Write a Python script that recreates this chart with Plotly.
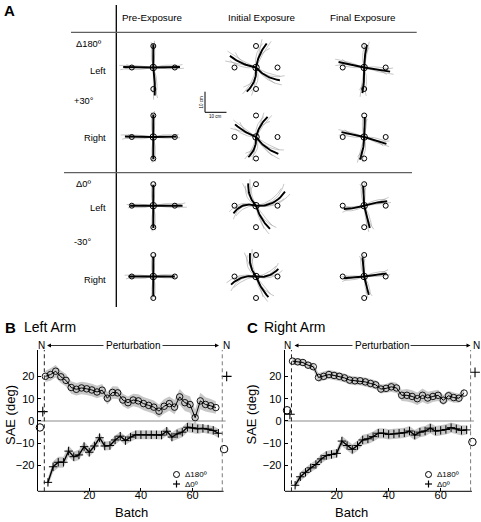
import math
import plotly.graph_objects as go

W, H = 481, 522
FONT = "Liberation Sans, Arial, sans-serif"

# ---------------- Panel B / C data (SAE, deg) ----------------
batch_d180 = [3, 5, 7, 9, 11, 13, 15, 17, 19, 21, 23, 25, 27, 29, 31, 33, 35,
              37, 39, 41, 43, 45, 47, 49, 51, 53, 55, 57, 59, 61, 63, 65, 67, 69]
batch_d0 = [4, 6, 8, 10, 12, 14, 16, 18, 20, 22, 24, 26, 28, 30, 32, 34, 36,
            38, 40, 42, 44, 46, 48, 50, 52, 54, 56, 58, 60, 62, 64, 66, 68, 70]

left_d180 = [20, 20.8, 22.3, 19.8, 18.2, 15, 14.2, 14.8, 14.4, 13.9,
             13, 13.8, 10.2, 12.8, 12.6, 9.4, 8.2, 9.4, 9, 7.8,
             7, 6.2, 4.4, 6.6, 7.8, 6.2, 10.8, 8.2, 7.4, 1.5,
             9, 7.4, 6.8, 6]
left_d180_err = [2.5, 2.8, 2.8, 2.8, 2.8, 2.8, 2.8, 2.8, 2.8, 2.8,
                 2.8, 2.8, 2.8, 2.8, 2.8, 2.8, 2.8, 2.8, 3.0, 3.0,
                 3.0, 3.0, 3.0, 3.2, 3.2, 3.2, 3.5, 3.7, 3.7, 3.7,
                 3.7, 3.2, 3.0, 2.8]
left_d0 = [-27.5, -20.5, -18.5, -18.5, -13.5, -16, -15.2, -11.5, -14, -11.2,
           -7.5, -11.2, -11, -8.5, -6.8, -8.8, -7.2, -6.2, -6.2, -6.2,
           -6.2, -6.2, -6.3, -4.6, -7.2, -5.8, -5, -2.8, -3.1, -3.5,
           -3.3, -3.6, -4.2, -5.5]
left_d0_err = [2.0, 2.5, 2.5, 2.5, 2.5, 2.3, 2.3, 2.3, 2.3, 2.3,
               2.3, 2.0, 2.0, 2.0, 2.0, 2.0, 2.0, 2.0, 2.0, 2.0,
               2.0, 2.0, 2.0, 2.0, 2.0, 2.3, 2.3, 2.3, 2.3, 2.3,
               2.0, 2.0, 2.0, 2.0]

right_d180 = [26.8, 26.5, 26.2, 25, 24.3, 19.5, 20, 20.8, 20.4, 20,
              19.3, 18.3, 18, 18, 17.5, 16.8, 16.2, 14.3, 14.6, 15.3,
              14.8, 11.5, 11.5, 11, 10, 11.5, 10.3, 11, 11.5, 9.3,
              11.3, 10.5, 10.2, 12.5]
right_d180_err = [1.6, 1.6, 1.6, 1.6, 1.6, 2.0, 2.0, 2.0, 2.0, 2.0,
                  2.0, 2.0, 2.0, 2.0, 2.0, 2.0, 2.0, 2.0, 2.0, 2.3,
                  2.3, 2.5, 2.8, 2.8, 2.8, 3.0, 2.8, 2.5, 2.5, 2.3,
                  2.3, 2.3, 2.0, 2.0]
right_d0 = [-28.8, -25, -23, -21, -19.5, -17, -15.5, -15, -14.5, -9,
            -11, -12.7, -11, -8.5, -8, -7, -5.5, -5.5, -6, -5.8,
            -5.5, -5.3, -4.5, -6.3, -5, -4.5, -3.2, -4.5, -4.2, -3.8,
            -3, -3.5, -4.2, -4]
right_d0_err = [1.6, 2.0, 2.0, 2.0, 2.0, 2.0, 2.0, 2.0, 2.0, 2.3,
                2.3, 2.3, 2.3, 2.3, 2.3, 2.3, 2.3, 2.3, 2.3, 2.3,
                2.3, 2.3, 2.3, 2.3, 2.3, 2.3, 2.3, 2.3, 2.3, 2.3,
                2.3, 2.3, 2.3, 2.0]

naive_x_d180 = [0.9, 72.2]
naive_x_d0 = [2.0, 73.2]
left_naive_d180 = [-2.9, -12.6]
left_naive_d0 = [4.2, 20.0]
right_naive_d180 = [4.8, -9.4]
right_naive_d0 = [3.0, 21.8]
n_boundaries = [2.6, 71.5]
x_ticks = [20, 40, 60]
y_ticks = [-20, -10, 0, 10, 20]

# ---------------- Panel A data (hand paths, cm) ----------------
# each path: (direction deg, length cm, bend cm); order up, right, down, left
col_names = ["Pre-Exposure", "Initial Exposure", "Final Exposure"]
target_dist = 10
target_dirs = [90, 0, -90, 180]
paths_d180_left = [
    [(90, 10.8, 0), (1, 12.4, 0), (-87, 13, 0.3), (179, 14, 0)],
    [(66, 12.2, 0.8), (-28, 12.6, -1.2), (-111, 12, 1.5), (156, 13.3, 0.8)],
    [(83, 10.6, 0.3), (-9, 12.2, 0), (-94, 12, 0.3), (168, 12.2, 0)],
]
paths_d180_right = [
    [(90, 10.5, 0), (1, 10.8, 0), (-90, 10.4, 0), (179, 13.2, 0)],
    [(60, 10.8, 0.8), (-37, 13, -1), (-111, 10, 1.2), (149, 11.4, 0.5)],
    [(88, 9.3, 0), (-17, 10.8, 0), (-101, 10.7, 0.5), (168, 10.8, 0)],
]
paths_d0_left = [
    [(90, 9.8, 0), (0, 13.6, 0), (-90, 10.4, 0), (180, 10.8, 0)],
    [(109, 11, 1.2), (26, 15, -2.2), (-59, 12.6, -0.8), (-161, 11.1, -2)],
    [(93, 9.3, 0), (11, 10.9, 0.3), (-76, 10.7, 0), (189, 9.6, 0.3)],
]
paths_d0_right = [
    [(90, 9.3, 0), (0, 10, 0), (-90, 9.3, 0), (180, 11.6, 0)],
    [(104, 11.2, 1.2), (19, 11, -1.5), (-59, 11.2, -0.5), (-162, 12.2, -1.5)],
    [(95, 8.9, 0), (8, 10.5, 0), (-76, 8.8, 0), (-175, 9.5, 0)],
]
panel_a_rows = [paths_d180_left, paths_d180_right, paths_d0_left, paths_d0_right]
trial_spread = [5, 12, 8]  # deg, per column
trial_variants = [(-1, 0.9, 0.8), (1, 1.1, -0.8), (-0.5, 1.15, -0.4), (0.7, 0.95, 0.6)]

# ---------------- layout helpers ----------------
def fx(px):
    return px / W

def fy(py):
    return 1 - py / H

def bez(angle, length, bend, n=22):
    a = math.radians(angle)
    ex, ey = length * math.cos(a), length * math.sin(a)
    nx, ny = -math.sin(a), math.cos(a)
    cx, cy = ex / 2 + 2 * bend * nx, ey / 2 + 2 * bend * ny
    xs, ys = [], []
    for i in range(n + 1):
        t = i / n
        xs.append(2 * (1 - t) * t * cx + t * t * ex)
        ys.append(2 * (1 - t) * t * cy + t * t * ey)
    return xs, ys

fig = go.Figure()
layout = {}
shapes = []
annotations = []

def text(x, y, s, size, xanchor="center", bold=False, angle=0, color="black"):
    annotations.append(dict(
        x=fx(x), y=fy(y), xref="paper", yref="paper", text=(f"<b>{s}</b>" if bold else s),
        showarrow=False, xanchor=xanchor, yanchor="middle", textangle=angle,
        font=dict(size=size, family=FONT, color=color)))

def pline(x0, y0, x1, y1, color="black", width=1, dash=None):
    ln = dict(color=color, width=width)
    if dash:
        ln["dash"] = dash
    shapes.append(dict(type="line", xref="paper", yref="paper",
                       x0=fx(x0), y0=fy(y0), x1=fx(x1), y1=fy(y1), line=ln))

# ---------------- Panel A ----------------
S = 2.15        # px per cm
HALF = 34       # px half-size of each cell
col_x = [153.3, 256.0, 364.2]
row_y = [67.5, 137.0, 205.7, 276.5]

ax_n = 3
for r, row in enumerate(panel_a_rows):
    for c, cell in enumerate(row):
        cx, cy = col_x[c], row_y[r]
        xa, ya = f"x{ax_n}", f"y{ax_n}"
        rng = [-HALF / S, HALF / S]
        layout[f"xaxis{ax_n}"] = dict(domain=[fx(cx - HALF), fx(cx + HALF)], range=rng,
                                      visible=False, fixedrange=True)
        layout[f"yaxis{ax_n}"] = dict(domain=[fy(cy + HALF), fy(cy - HALF)], range=rng,
                                      visible=False, fixedrange=True)
        gx, gy = [], []
        for (ang, ln, bd) in cell:
            for (da, lf, db) in trial_variants:
                xs, ys = bez(ang + da * trial_spread[c], ln * lf, bd + db)
                gx += xs + [None]
                gy += ys + [None]
        fig.add_trace(go.Scatter(x=gx, y=gy, mode="lines", xaxis=xa, yaxis=ya,
                                 line=dict(color="#a0a0a0", width=0.6), hoverinfo="skip"))
        bx, by = [], []
        for (ang, ln, bd) in cell:
            xs, ys = bez(ang, ln, bd)
            bx += xs + [None]
            by += ys + [None]
        fig.add_trace(go.Scatter(x=bx, y=by, mode="lines", xaxis=xa, yaxis=ya,
                                 line=dict(color="black", width=1.9), hoverinfo="skip"))
        tx = [target_dist * math.cos(math.radians(d)) for d in target_dirs]
        ty = [target_dist * math.sin(math.radians(d)) for d in target_dirs]
        fig.add_trace(go.Scatter(x=tx, y=ty, mode="markers", xaxis=xa, yaxis=ya, cliponaxis=False,
                                 marker=dict(symbol="circle-open", size=5, color="black",
                                             line=dict(width=1, color="black")), hoverinfo="skip"))
        fig.add_trace(go.Scatter(x=[0], y=[0], mode="markers", xaxis=xa, yaxis=ya, cliponaxis=False,
                                 marker=dict(symbol="circle-open", size=6.5, color="black",
                                             line=dict(width=1, color="black")), hoverinfo="skip"))
        ax_n += 1

pline(116.3, 5, 116.3, 307, color="black", width=1.3)
pline(71, 32.3, 416.7, 32.3, color="#606060", width=1.3)
pline(64, 172.7, 412, 172.7, color="#606060", width=1.3)
text(2, 10, "A", 15, xanchor="left", bold=True)
text(151.7, 17.3, col_names[0], 9.8)
text(261.7, 17.3, col_names[1], 9.8)
text(362.7, 17.3, col_names[2], 9.8)
text(74, 44.3, "Δ180º", 9.3, xanchor="left")
text(107.5, 71, "Left", 9.3, xanchor="right")
text(72, 101, "+30°", 9.3, xanchor="left")
text(107.5, 137.7, "Right", 9.3, xanchor="right")
text(74, 184.3, "Δ0º", 9.3, xanchor="left")
text(107.5, 208.3, "Left", 9.3, xanchor="right")
text(72, 241.7, "-30°", 9.3, xanchor="left")
text(107.5, 280, "Right", 9.3, xanchor="right")
pline(205, 91.7, 205, 112.3, width=1)
pline(205, 112.3, 226.5, 112.3, width=1)
text(215.7, 116.8, "10 cm", 4.5)
text(201.6, 102, "10 cm", 4.5, angle=-90)

# ---------------- Panels B and C ----------------
panels = [
    dict(xa="x", ya="y", x0=37.6, pxu=2.583, d180=left_d180, e180=left_d180_err,
         d0=left_d0, e0=left_d0_err, n180=left_naive_d180, n0=left_naive_d0,
         letter="B", title="Left Arm", lx=3, tx=22, nl=41, nr=226.5, pert=133,
         al=(47, 105), ar=(161, 219), ylab=10, xlab=131, legx=176.5),
    dict(xa="x2", ya="y2", x0=284.7, pxu=2.6, d180=right_d180, e180=right_d180_err,
         d0=right_d0, e0=right_d0_err, n180=right_naive_d180, n0=right_naive_d0,
         letter="C", title="Right Arm", lx=245, tx=262, nl=287.7, nr=476.5, pert=381.7,
         al=(294.5, 354), ar=(409, 470.5), ylab=250.5, xlab=351.7, legx=428.5),
]
Y_TOP, Y_BOT = 350.0, 491.3
Y_RANGE = [-31.5, 31.8]
X_RANGE = [0, 74.5]   # room for the post-exposure (N) points
X_AXIS_END = 72

for i, p in enumerate(panels):
    suffix = "" if i == 0 else "2"
    x_left = p["x0"]
    x_right = p["x0"] + X_RANGE[1] * p["pxu"]
    layout[f"xaxis{suffix}"] = dict(
        domain=[fx(x_left), fx(x_right)], range=X_RANGE, anchor=p["ya"],
        showline=False, ticks="inside", ticklen=3, tickcolor="black", tickvals=x_ticks,
        ticklabelstandoff=-4,
        tickfont=dict(size=11, family=FONT, color="black"), showgrid=False, zeroline=False,
        fixedrange=True)
    layout[f"yaxis{suffix}"] = dict(
        domain=[fy(Y_BOT), fy(Y_TOP)], range=Y_RANGE, anchor=p["xa"],
        showline=True, linecolor="black", linewidth=1,
        ticks="inside", ticklen=3, tickcolor="black", tickvals=y_ticks,
        tickfont=dict(size=11, family=FONT, color="black"), showgrid=False,
        zeroline=False, fixedrange=True)
    # bottom axis line and zero line limited to the batch span
    shapes.append(dict(type="line", xref=p["xa"], yref=f"{p['ya']} domain",
                       x0=0, x1=X_AXIS_END, y0=0, y1=0, line=dict(color="black", width=1)))
    shapes.append(dict(type="line", xref=p["xa"], yref=p["ya"], layer="below",
                       x0=0, x1=X_AXIS_END + 0.8, y0=0, y1=0,
                       line=dict(color="#8c8c8c", width=1.2)))

    for xs, ys, es in [(batch_d180, p["d180"], p["e180"]), (batch_d0, p["d0"], p["e0"])]:
        up = [v + e for v, e in zip(ys, es)]
        lo = [v - e for v, e in zip(ys, es)]
        fig.add_trace(go.Scatter(x=xs + xs[::-1], y=up + lo[::-1], fill="toself",
                                 fillcolor="#c8c8c8", line=dict(width=0), mode="lines",
                                 xaxis=p["xa"], yaxis=p["ya"], hoverinfo="skip"))
    for k, xb in enumerate(n_boundaries):
        shapes.append(dict(type="line", xref=p["xa"], yref=f"{p['ya']} domain",
                           x0=xb, x1=xb, y0=0, y1=1,
                           line=dict(color="#222222" if k == 0 else "#7a7a7a", width=1,
                                     dash="4px,3px")))
    fig.add_trace(go.Scatter(x=batch_d180, y=p["d180"], mode="lines+markers",
                             xaxis=p["xa"], yaxis=p["ya"],
                             line=dict(color="black", width=1),
                             marker=dict(symbol="circle-open", size=6.5, color="black",
                                         line=dict(width=0.9, color="black"))))
    fig.add_trace(go.Scatter(x=batch_d0, y=p["d0"], mode="lines+markers",
                             xaxis=p["xa"], yaxis=p["ya"],
                             line=dict(color="black", width=1.4),
                             marker=dict(symbol="cross-thin-open", size=6, color="black",
                                         line=dict(width=1, color="black"))))
    fig.add_trace(go.Scatter(x=naive_x_d180, y=p["n180"], mode="markers", cliponaxis=False,
                             xaxis=p["xa"], yaxis=p["ya"],
                             marker=dict(symbol="circle-open", size=7.5, color="black",
                                         line=dict(width=1, color="black"))))
    fig.add_trace(go.Scatter(x=naive_x_d0, y=p["n0"], mode="markers", cliponaxis=False,
                             xaxis=p["xa"], yaxis=p["ya"],
                             marker=dict(symbol="cross-thin-open", size=7, color="black",
                                         line=dict(width=1.1, color="black"))))

    text(p["lx"], 327, p["letter"], 15, xanchor="left", bold=True)
    text(p["tx"], 327, p["title"], 14, xanchor="left")
    text(p["nl"], 345.5, "N", 10)
    text(p["nr"], 345.5, "N", 10)
    text(p["pert"], 345.5, "Perturbation", 10)
    for head, tail in [(p["al"][0], p["al"][1]), (p["ar"][1], p["ar"][0])]:
        annotations.append(dict(x=fx(head), y=fy(345.5), xref="paper", yref="paper",
                                ax=tail - head, ay=0, text="", showarrow=True,
                                arrowhead=2, arrowsize=1, arrowwidth=0.8,
                                arrowcolor="black", standoff=0))
    text(p["ylab"], 415, "SAE (deg)", 13, angle=-90)
    text(p["xlab"], 512.5, "Batch", 13)
    lx = p["legx"]
    shapes.append(dict(type="circle", xref="paper", yref="paper",
                       x0=fx(lx - 3), x1=fx(lx + 3), y0=fy(474.5 + 3), y1=fy(474.5 - 3),
                       line=dict(color="black", width=1)))
    pline(lx - 3.5, 484, lx + 3.5, 484, width=1.2)
    pline(lx, 480.5, lx, 487.5, width=1.2)
    text(lx + 6.5, 474.5, "Δ180º", 8, xanchor="left")
    text(lx + 6.5, 484, "Δ0º", 8, xanchor="left")

layout.update(dict(
    width=W, height=H, margin=dict(l=0, r=0, t=0, b=0),
    paper_bgcolor="white", plot_bgcolor="rgba(0,0,0,0)", showlegend=False,
    font=dict(family=FONT, color="black"), shapes=shapes, annotations=annotations,
))
fig.update_layout(**layout)
fig.write_html("out.html", config={"displayModeBar": False, "staticPlot": True},
               post_script="document.body.style.margin='0';document.body.style.overflow='hidden';")
